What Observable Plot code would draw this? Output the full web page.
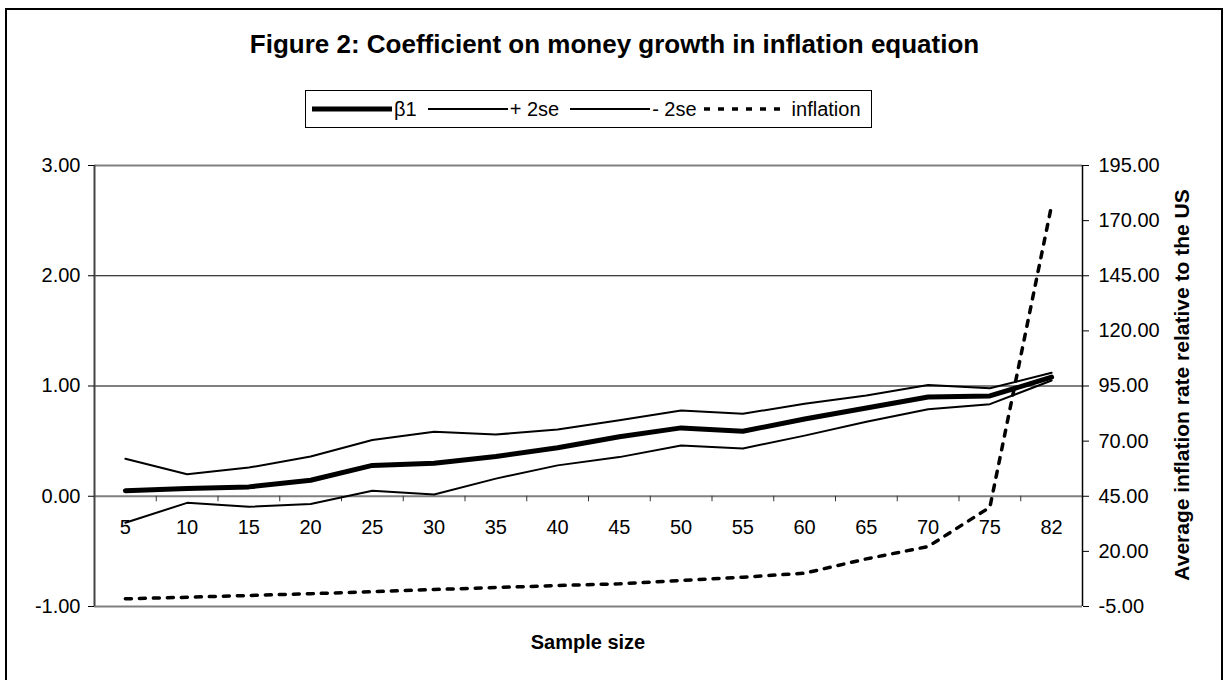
<!DOCTYPE html>
<html>
<head>
<meta charset="utf-8">
<script src="https://cdn.jsdelivr.net/npm/d3@7"></script>
<script src="https://cdn.jsdelivr.net/npm/@observablehq/plot@0.6"></script>
<style>
  html, body { margin: 0; padding: 0; background: #fff; }
  #wrap { position: relative; width: 1231px; height: 680px; overflow: hidden; font-family: "Liberation Sans", Arial, sans-serif; color: #000; }
  #frame { position: absolute; left: 5px; top: 8px; width: 1218px; height: 700px; border: 2px solid #000; box-sizing: border-box; }
  #title { position: absolute; left: 0; width: 1229px; top: 28px; text-align: center; font-weight: bold; font-size: 26px; line-height: 32px; }
  #legend { position: absolute; left: 305px; top: 90px; width: 567px; height: 38px; border: 1px solid #000; box-sizing: border-box; display: flex; align-items: center; font-size: 20px; white-space: nowrap; background: #fff; }
  #legend svg { display: block; }
  #xlab { position: absolute; left: 588px; top: 642px; transform: translate(-50%, -50%); font-weight: bold; font-size: 20px; white-space: nowrap; }
  #ylab { position: absolute; left: 1182px; top: 385px; transform: translate(-50%, -50%) rotate(-90deg); font-weight: bold; font-size: 21px; white-space: nowrap; }
  #plot { position: absolute; left: 0; top: 0; }
</style>
</head>
<body>
<div id="wrap">
  <div id="frame"></div>
  <div id="plot"></div>
  <div id="title">Figure 2: Coefficient on money growth in inflation equation</div>
  <div id="legend"></div>
  <div id="xlab">Sample size</div>
  <div id="ylab">Average inflation rate relative to the US</div>
</div>
<script>
// ---- data ----
const categories = ["5","10","15","20","25","30","35","40","45","50","55","60","65","70","75","82"];
const beta1   = [0.05, 0.07, 0.085, 0.145, 0.28, 0.30, 0.36, 0.44, 0.54, 0.62, 0.59, 0.70, 0.80, 0.90, 0.91, 1.08];
const plus2se = [0.34, 0.20, 0.26, 0.36, 0.51, 0.585, 0.56, 0.605, 0.69, 0.778, 0.748, 0.84, 0.914, 1.01, 0.98, 1.12];
const minus2se= [-0.24, -0.06, -0.095, -0.07, 0.05, 0.016, 0.16, 0.28, 0.355, 0.46, 0.433, 0.55, 0.675, 0.79, 0.835, 1.05];
const inflation = [-1.5, -0.8, 0.0, 0.8, 1.7, 2.7, 3.6, 4.5, 5.3, 6.8, 8.3, 10.1, 16.6, 22.2, 40.0, 177.0];
const leftTicks = [-1, 0, 1, 2, 3];
const rightTicks = [-5, 20, 45, 70, 95, 120, 145, 170, 195];
const legendItems = [
  {label: "β1", width: 5, dash: null},
  {label: "+ 2se", width: 2, dash: null},
  {label: "- 2se", width: 2, dash: null},
  {label: "inflation", width: 3.5, dash: "6 8"}
];

// right axis (inflation) mapped onto the left axis domain
const right2left = d3.scaleLinear().domain([-5, 195]).range([-1, 3]);
const boundaries = d3.range(0.5, categories.length - 0.5, 1);
const idx = (d, i) => i;

const chart = Plot.plot({
  width: 1231,
  height: 680,
  marginLeft: 94,
  marginRight: 149,
  marginTop: 165,
  marginBottom: 74,
  style: {fontFamily: "'Liberation Sans', Arial, sans-serif", fontSize: "20px", background: "transparent", color: "#000", overflow: "visible"},
  x: {domain: [-0.5, categories.length - 0.5], axis: null},
  y: {domain: [-1, 3], axis: null},
  marks: [
    Plot.ruleY([1, 2], {stroke: "#000", strokeWidth: 1}),
    Plot.ruleY([3, -1], {stroke: "#808080", strokeWidth: 2}),
    Plot.ruleY([0], {stroke: "#808080", strokeWidth: 2}),
    Plot.ruleX(boundaries, {x: d => d, y1: 0, y2: -0.05, stroke: "#333", strokeWidth: 1}),
    Plot.ruleX([-0.5], {stroke: "#444", strokeWidth: 2}),
    Plot.ruleX([categories.length - 0.5], {stroke: "#000", strokeWidth: 1.5}),
    Plot.axisY({anchor: "left", ticks: leftTicks, tickFormat: d => d.toFixed(2), tickSize: 6, tickPadding: 8, label: null, fontSize: 20}),
    Plot.axisY({anchor: "right", ticks: rightTicks.map(right2left), tickFormat: d => right2left.invert(d).toFixed(2), tickSize: 6, tickPadding: 10, label: null, fontSize: 20}),
    Plot.text(categories, {x: idx, y: 0, dy: 31, text: d => d, fontSize: 20}),
    Plot.line(inflation, {x: idx, y: d => right2left(d), stroke: "#000", strokeWidth: 3.5, strokeDasharray: "6 8"}),
    Plot.line(plus2se, {x: idx, y: d => d, stroke: "#000", strokeWidth: 2}),
    Plot.line(minus2se, {x: idx, y: d => d, stroke: "#000", strokeWidth: 2}),
    Plot.line(beta1, {x: idx, y: d => d, stroke: "#000", strokeWidth: 5})
  ]
});
document.getElementById("plot").appendChild(chart);

// legend
const leg = d3.select("#legend");
legendItems.forEach((it, k) => {
  const svg = leg.append("svg").attr("width", 80).attr("height", 10)
    .style("margin-left", k === 0 ? "6px" : (k === 3 ? "7px" : "11px"));
  svg.append("line").attr("x1", 0).attr("x2", 80).attr("y1", 5).attr("y2", 5)
    .attr("stroke", "#000").attr("stroke-width", it.width)
    .attr("stroke-dasharray", it.dash);
  leg.append("span").style("margin-left", k === 3 ? "8px" : "2px").text(it.label);
});
</script>
</body>
</html>
